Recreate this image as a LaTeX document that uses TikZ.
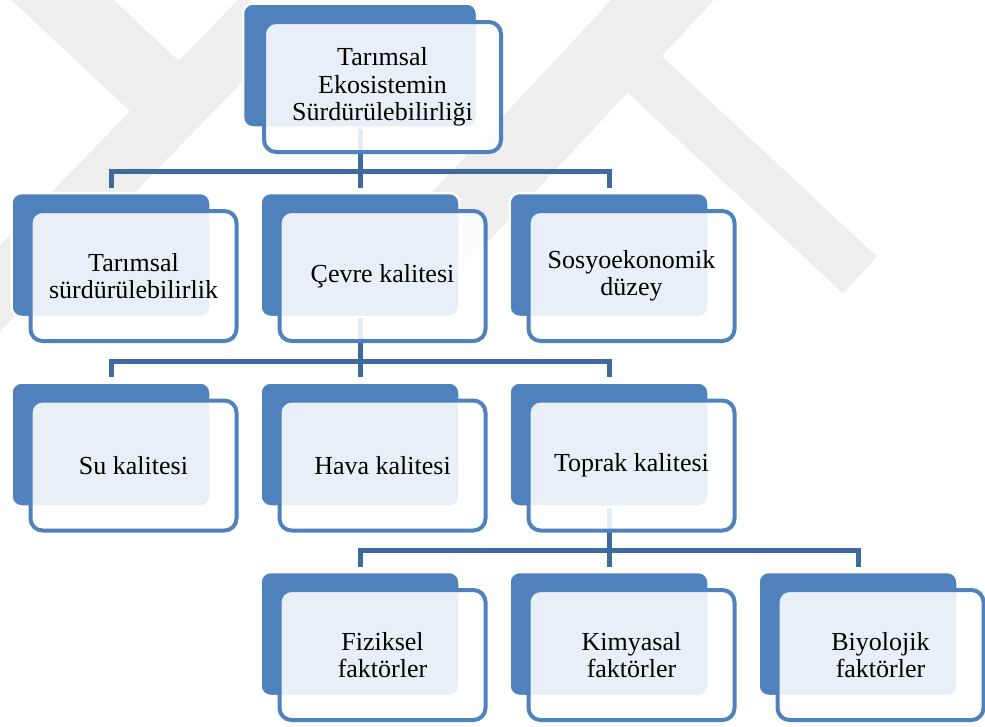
\documentclass[tikz,border=0pt]{standalone}
\usepackage{fontspec}
\setmainfont{Liberation Serif}
\usetikzlibrary{positioning}

\definecolor{cardblue}{HTML}{4F81BD}
\definecolor{linkblue}{HTML}{3E6A9E}
\definecolor{wmgray}{HTML}{EEEEEE}

\begin{document}
\begin{tikzpicture}
% Style
[
    x=1pt, y=-1pt, font=\fontsize{26}{27.5}\selectfont,
    back/.style={
        draw=white, line width=2.5pt, fill=cardblue, rounded corners=10pt,
        minimum width=199pt, minimum height=124pt, inner sep=0pt
    },
    card/.style={
        draw=cardblue, line width=4pt, fill=white, fill opacity=.88, text opacity=1,
        rounded corners=12pt, align=center, inner sep=0pt,
        minimum width=206pt, minimum height=130pt
    },
    link/.style={draw=linkblue, line width=5pt, shorten >=4pt},
    band/.style={draw=wmgray}
]

\useasboundingbox (0,0) rectangle (985,726);
\clip (0,0) rectangle (985,726);

%================================ Background =================================
\draw[band, line width=70pt] (20,-40) -- (185,115);
\draw[band, line width=60pt] (265,15) -- (-40,330);
\draw[band, line width=75pt] (700,-40) -- (420,260);
\draw[band, line width=50pt] (640,70) -- (860,275);

%=================================== Start ===================================
{
    \node[back, minimum width=234pt] (tarim-b) at (360,65.5) {};
    \foreach \n/\x/\y in {surd/111/255, cevre/360/255, sosyo/609/255,
                          su/111/444.5, hava/360/444.5, toprak/609/444.5,
                          fizik/360/634, kimya/609/634, biyo/858/634} {
        \node[back] (\n-b) at (\x,\y) {};
    }

    \foreach \p/\k in {tarim/surd, tarim/cevre, tarim/sosyo,
                       cevre/su, cevre/hava, cevre/toprak,
                       toprak/fizik, toprak/kimya, toprak/biyo} {
        \draw[link] (\p-b.south) -- ++(0,43) -| (\k-b.north);
    }

    \node[card, minimum width=237pt] (tarim) at ([shift={(22.5,21.5)}] tarim-b.center)
        {Tarımsal\\Ekosistemin\\Sürdürülebilirliği};
    \foreach \n/\t in {surd/{Tarımsal\\sürdürülebilirlik}, cevre/{Çevre kalitesi},
                       sosyo/{Sosyoekonomik\\düzey}, su/{Su kalitesi},
                       hava/{Hava kalitesi}, toprak/{Toprak kalitesi},
                       fizik/{Fiziksel\\faktörler}, kimya/{Kimyasal\\faktörler},
                       biyo/{Biyolojik\\faktörler}} {
        \node[card] (\n) at ([shift={(22.5,21)}] \n-b.center) {\t};
    }
}
%==================================== END ====================================

\end{tikzpicture}
\end{document}
